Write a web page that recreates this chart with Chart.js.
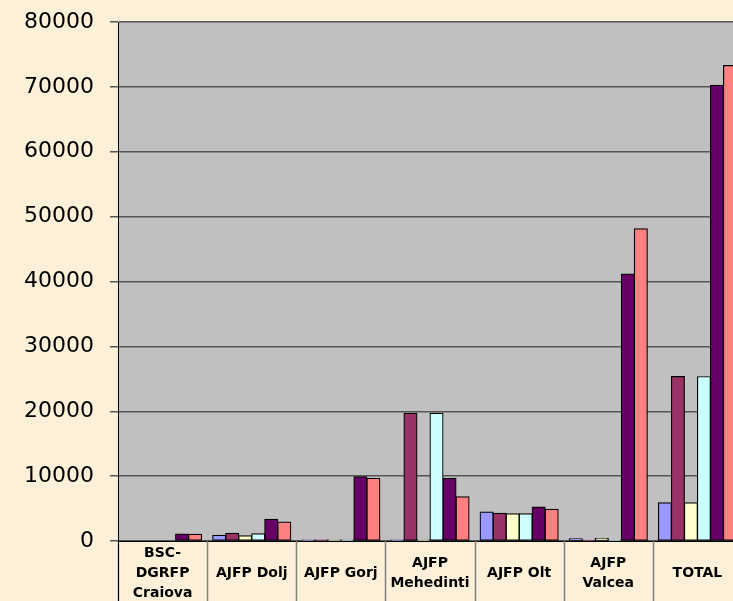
<!DOCTYPE html>
<html>
<head>
<meta charset="utf-8">
<script src="https://cdn.jsdelivr.net/npm/chart.js@4.4.1/dist/chart.umd.min.js"></script>
<style>
  html, body { margin: 0; padding: 0; overflow: hidden; background: #fcf1d8; }
  #wrap { position: absolute; left: 0; top: 0; width: 742px; height: 601px; }
</style>
</head>
<body>
<div id="wrap"><canvas id="chart" width="742" height="601"></canvas></div>
<script>
const categories = [
  ["BSC-", "DGRFP", "Craiova"],
  "AJFP Dolj",
  "AJFP Gorj",
  ["AJFP", "Mehedinti"],
  "AJFP Olt",
  ["AJFP", "Valcea"],
  "TOTAL",
];
const yTicks = [0, 10000, 20000, 30000, 40000, 50000, 60000, 70000, 80000];

const serie1 = [0, 880, 150, 150, 4470, 350, 5900];
const serie2 = [0, 1190, 150, 19700, 4270, 100, 25360];
const serie3 = [0, 820, 150, 150, 4210, 400, 5880];
const serie4 = [0, 1120, 150, 19700, 4210, 100, 25330];
const serie5 = [1080, 3340, 9900, 9660, 5240, 41160, 70250];
const serie6 = [1050, 2930, 9650, 6830, 4880, 48120, 73300];

const colors = ["#9999ff", "#993366", "#ffffcc", "#ccffff", "#660066", "#ff8080"];

// background + plot area fill, and the separators under the x axis
const backdrop = {
  id: "backdrop",
  beforeDraw(chart) {
    const { ctx, chartArea } = chart;
    ctx.save();
    ctx.fillStyle = "#fcf1d8";
    ctx.fillRect(0, 0, chart.width, chart.height);
    ctx.fillStyle = "#c0c0c0";
    ctx.fillRect(chartArea.left, chartArea.top, chartArea.right - chartArea.left, chartArea.bottom - chartArea.top);
    ctx.restore();
  },
  afterDraw(chart) {
    const { ctx, chartArea } = chart;
    const x = chart.scales.x;
    const half = (x.getPixelForValue(1) - x.getPixelForValue(0)) / 2;
    ctx.save();
    ctx.strokeStyle = "#808080";
    ctx.lineWidth = 1.5;
    for (let i = 0; i <= categories.length; i++) {
      const px = Math.round(x.getPixelForValue(i) - half) + 0.5;
      ctx.beginPath();
      ctx.moveTo(px, chartArea.bottom);
      ctx.lineTo(px, chart.height);
      ctx.stroke();
    }
    ctx.strokeStyle = "#000";
    ctx.lineWidth = 1;
    ctx.beginPath();
    ctx.moveTo(chartArea.left + 0.5, chartArea.top);
    ctx.lineTo(chartArea.left + 0.5, chart.height);
    ctx.stroke();
    ctx.restore();
  },
};

const series = [serie1, serie2, serie3, serie4, serie5, serie6];

new Chart(document.getElementById("chart"), {
  type: "bar",
  data: {
    labels: categories,
    datasets: series.map((s, i) => ({
      label: "Seria " + (i + 1),
      data: s,
      backgroundColor: colors[i],
      borderColor: "#000000",
      borderWidth: 1.2,
      borderSkipped: false,
      inflateAmount: 0.5,
      categoryPercentage: 0.876,
      barPercentage: 1.0,
    })),
  },
  options: {
    responsive: false,
    animation: false,
    devicePixelRatio: 1,
    layout: { padding: { top: 22, right: 0, left: 0, bottom: 0 } },
    plugins: { legend: { display: false }, tooltip: { enabled: false } },
    scales: {
      x: {
        offset: true,
        grid: { display: false },
        border: { display: true, color: "#000", width: 1 },
        ticks: {
          color: "#000",
          padding: 4,
          maxRotation: 0,
          autoSkip: false,
          crossAlign: "center",
          font: { family: "'DejaVu Sans'", size: 14, weight: "bold", lineHeight: 1.45 },
        },
        afterFit(scale) { scale.height = 60; },
      },
      y: {
        min: 0,
        max: 80000,
        afterBuildTicks(scale) { scale.ticks = yTicks.map((v) => ({ value: v })); },
        grid: { color: "#555", lineWidth: 1.5, tickLength: 8 },
        border: { display: true, color: "#000", width: 1 },
        ticks: {
          color: "#000",
          padding: 16,
          font: { family: "'DejaVu Sans'", size: 22, lineHeight: 0.8 },
          callback: (v) => String(v),
        },
        afterFit(scale) {
          scale.width = 118;
          scale.paddingTop = 0;
          scale.paddingBottom = 0;
        },
      },
    },
  },
  plugins: [backdrop],
});
</script>
</body>
</html>
